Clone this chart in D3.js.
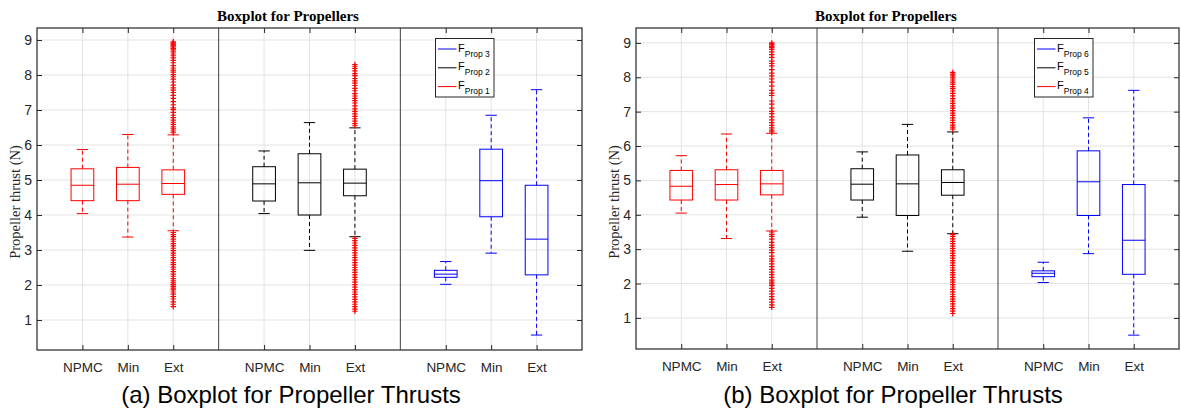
<!DOCTYPE html>
<html>
<head>
<meta charset="utf-8">
<script src="https://cdn.jsdelivr.net/npm/d3@7"></script>
<style>
  body { margin: 0; background: #fff; }
  svg { display: block; }
</style>
</head>
<body>
<svg id="chart" width="1181" height="410"></svg>
<script>
// categories and ticks
var categories = ["NPMC", "Min", "Ext"];
var yTicks = [1, 2, 3, 4, 5, 6, 7, 8, 9];

// five-number summaries per category: [lower whisker, q1, median, q3, upper whisker]
var prop1 = [[4.04, 4.41, 4.85, 5.32, 5.87], [3.37, 4.41, 4.88, 5.36, 6.30], [3.55, 4.59, 4.90, 5.29, 6.29]];
var prop2 = [[4.04, 4.40, 4.89, 5.38, 5.83], [2.99, 4.00, 4.92, 5.75, 6.64], [3.38, 4.55, 4.91, 5.31, 6.49]];
var prop3 = [[2.02, 2.22, 2.31, 2.42, 2.67], [2.91, 3.95, 4.98, 5.88, 6.85], [0.57, 2.29, 3.31, 4.85, 7.58]];

var prop4 = [[4.05, 4.43, 4.83, 5.29, 5.72], [3.31, 4.43, 4.88, 5.31, 6.35], [3.53, 4.58, 4.90, 5.29, 6.37]];
var prop5 = [[3.93, 4.43, 4.89, 5.34, 5.83], [2.94, 3.98, 4.90, 5.74, 6.63], [3.45, 4.57, 4.94, 5.31, 6.41]];
var prop6 = [[2.03, 2.20, 2.30, 2.37, 2.62], [2.87, 3.98, 4.96, 5.86, 6.82], [0.50, 2.27, 3.26, 4.88, 7.62]];

// outliers ("Ext" only)
var prop1ExtOut = [8.95, 8.92, 8.89, 8.86, 8.83, 8.80, 8.76, 8.72, 8.66, 8.60, 8.55, 8.49, 8.42, 8.35, 8.27, 8.20,
  8.14, 8.08, 8.01, 7.95, 7.88, 7.80, 7.71, 7.63, 7.57, 7.50, 7.42, 7.33, 7.24, 7.15, 7.06, 7.01, 6.93,
  6.85, 6.78, 6.71, 6.65, 6.59, 6.52, 6.46, 6.40, 6.35,
  3.50, 3.44, 3.38, 3.31, 3.25, 3.18, 3.12, 3.05, 2.98, 2.91, 2.85, 2.78, 2.71, 2.64, 2.58, 2.51, 2.45,
  2.38, 2.31, 2.25, 2.18, 2.12, 2.06, 2.01, 1.96, 1.91, 1.86, 1.80, 1.74, 1.67, 1.60, 1.52, 1.45, 1.38];
var prop2ExtOut = [8.30, 8.25, 8.19, 8.12, 8.04, 7.98, 7.90, 7.83, 7.77, 7.70, 7.62, 7.55, 7.47, 7.40, 7.33,
  7.27, 7.20, 7.12, 7.03, 6.96, 6.89, 6.82, 6.75, 6.68, 6.61, 6.55,
  3.33, 3.27, 3.20, 3.13, 3.06, 2.99, 2.92, 2.85, 2.78, 2.71, 2.64, 2.57, 2.50, 2.43, 2.36, 2.29, 2.22,
  2.15, 2.08, 2.01, 1.94, 1.87, 1.80, 1.73, 1.66, 1.59, 1.52, 1.45, 1.38, 1.31, 1.25];
var prop4ExtOut = [9.00, 8.97, 8.94, 8.90, 8.86, 8.81, 8.74, 8.66, 8.58, 8.47, 8.40, 8.33, 8.22, 8.12, 8.04,
  7.95, 7.86, 7.74, 7.62, 7.54, 7.47, 7.31, 7.22, 7.10, 7.01, 6.94, 6.85, 6.76, 6.68, 6.60, 6.53, 6.46, 6.41,
  3.50, 3.43, 3.37, 3.29, 3.20, 3.12, 3.05, 2.97, 2.90, 2.80, 2.72, 2.65, 2.57, 2.49, 2.41, 2.33, 2.26,
  2.18, 2.10, 2.04, 1.99, 1.94, 1.86, 1.78, 1.70, 1.62, 1.54, 1.46, 1.38, 1.31];
var prop5ExtOut = [8.14, 8.09, 8.04, 7.98, 7.92, 7.86, 7.80, 7.73, 7.67, 7.60, 7.53, 7.46, 7.38, 7.31, 7.24,
  7.17, 7.10, 7.03, 6.96, 6.89, 6.82, 6.75, 6.68, 6.61, 6.55, 6.49,
  3.43, 3.37, 3.30, 3.23, 3.16, 3.09, 3.02, 2.95, 2.88, 2.81, 2.74, 2.67, 2.60, 2.53, 2.46, 2.39, 2.32,
  2.25, 2.18, 2.11, 2.04, 1.97, 1.90, 1.83, 1.76, 1.69, 1.62, 1.55, 1.48, 1.41, 1.34, 1.27, 1.20, 1.13];

var groupColors = ["#ff0000", "#000000", "#0000ff"];
var axisColor = "#262626";
var svg = d3.select("#chart");

function drawPanel(p) {
  var x = d3.scaleLinear().domain([0, 12]).range([p.left, p.right]);
  var y = d3.scaleLinear().domain(p.yDomain).range([p.bottom, p.top]);
  var g = svg.append("g");

  var positions = [];
  for (var gi = 0; gi < 3; gi++) for (var c = 0; c < 3; c++) positions.push(1 + gi * 4 + c);
  var labels = positions.map(function(d, i) { return categories[i % 3]; });

  // grid
  g.append("g").selectAll("line").data(yTicks).enter().append("line")
    .attr("x1", p.left).attr("x2", p.right)
    .attr("y1", function(d) { return y(d); }).attr("y2", function(d) { return y(d); })
    .attr("stroke", "#e3e3e3").attr("stroke-width", 1);
  g.append("g").selectAll("line").data(positions).enter().append("line")
    .attr("y1", p.top).attr("y2", p.bottom)
    .attr("x1", function(d) { return x(d); }).attr("x2", function(d) { return x(d); })
    .attr("stroke", "#e3e3e3").attr("stroke-width", 1);

  // separators between groups
  g.append("g").selectAll("line").data([4, 8]).enter().append("line")
    .attr("y1", p.top).attr("y2", p.bottom)
    .attr("x1", function(d) { return x(d); }).attr("x2", function(d) { return x(d); })
    .attr("stroke", "#404040").attr("stroke-width", 1);

  // axes
  var left = g.append("g").attr("transform", "translate(" + p.left + ",0)")
    .call(d3.axisLeft(y).tickValues(yTicks).tickSizeInner(-5).tickSizeOuter(0).tickPadding(5));
  var right = g.append("g").attr("transform", "translate(" + p.right + ",0)")
    .call(d3.axisRight(y).tickValues(yTicks).tickSizeInner(-5).tickSizeOuter(0).tickFormat(""));
  var bottom = g.append("g").attr("transform", "translate(0," + p.bottom + ")")
    .call(d3.axisBottom(x).tickValues(positions).tickSizeInner(-5).tickSizeOuter(0).tickPadding(12)
      .tickFormat(function(d, i) { return labels[i]; }));
  var top = g.append("g").attr("transform", "translate(0," + p.top + ")")
    .call(d3.axisTop(x).tickValues(positions).tickSizeInner(-5).tickSizeOuter(0).tickFormat(""));
  [left, right, bottom, top].forEach(function(a) {
    a.select(".domain").remove();
    a.selectAll("line").attr("stroke", axisColor);
    a.selectAll("text").attr("fill", axisColor).attr("font-family", "Liberation Sans, Arial, sans-serif");
  });
  left.selectAll("text").attr("font-size", 14);
  bottom.selectAll("text").attr("font-size", 13.5);

  // boxes
  p.series.forEach(function(series, gi) {
    var color = groupColors[gi];
    series.forEach(function(s, c) {
      var pos = 1 + gi * 4 + c;
      var bg = g.append("g").attr("stroke", color).attr("fill", "none").attr("stroke-width", 1);
      bg.append("line").attr("x1", x(pos)).attr("x2", x(pos)).attr("y1", y(s[3])).attr("y2", y(s[4]))
        .attr("stroke-dasharray", "4,3");
      bg.append("line").attr("x1", x(pos)).attr("x2", x(pos)).attr("y1", y(s[1])).attr("y2", y(s[0]))
        .attr("stroke-dasharray", "4,3");
      [s[0], s[4]].forEach(function(v) {
        bg.append("line").attr("x1", x(pos - 0.125)).attr("x2", x(pos + 0.125))
          .attr("y1", y(v)).attr("y2", y(v));
      });
      bg.append("rect").attr("x", x(pos - 0.25)).attr("width", x(pos + 0.25) - x(pos - 0.25))
        .attr("y", y(s[3])).attr("height", y(s[1]) - y(s[3]));
      bg.append("line").attr("x1", x(pos - 0.25)).attr("x2", x(pos + 0.25))
        .attr("y1", y(s[2])).attr("y2", y(s[2]));
    });
  });

  // outliers
  p.outliers.forEach(function(out, gi) {
    var pos = 1 + gi * 4 + 2;
    g.append("g").selectAll("path").data(out).enter().append("path")
      .attr("d", function(d) {
        var cx = x(pos), cy = y(d), r = 2.7;
        return "M" + (cx - r) + "," + cy + "H" + (cx + r) + "M" + cx + "," + (cy - r) + "V" + (cy + r);
      })
      .attr("stroke", "#ff0000").attr("stroke-width", 1.2);
  });

  // frame
  g.append("rect").attr("x", p.left).attr("y", p.top)
    .attr("width", p.right - p.left).attr("height", p.bottom - p.top)
    .attr("fill", "none").attr("stroke", axisColor).attr("stroke-width", 1.2);

  // legend
  var lx = p.left + 398.5, ly = 38.5;
  var lg = g.append("g");
  lg.append("rect").attr("x", lx).attr("y", ly).attr("width", 58.5).attr("height", 58.5)
    .attr("fill", "#fff").attr("stroke", axisColor).attr("stroke-width", 1);
  p.legend.forEach(function(item, i) {
    var yy = ly + 10.5 + i * 18.8;
    lg.append("line").attr("x1", lx + 2.5).attr("x2", lx + 21).attr("y1", yy).attr("y2", yy)
      .attr("stroke", item.color).attr("stroke-width", 1);
    var t = lg.append("text").attr("x", lx + 22.5).attr("y", yy + 2.5)
      .attr("font-family", "Liberation Sans, Arial, sans-serif").attr("fill", "#000");
    t.append("tspan").attr("font-size", 11).text("F");
    t.append("tspan").attr("font-size", 8.5).attr("dy", 5).text(item.sub);
  });

  // title, ylabel, caption
  g.append("text").attr("x", p.titleX).attr("y", 20.5).attr("text-anchor", "middle")
    .attr("font-family", "Liberation Serif, Times New Roman, serif").attr("font-weight", "bold")
    .attr("font-size", 15).text("Boxplot for Propellers");
  g.append("text").attr("transform", "translate(" + (p.left - 17.5) + ",202) rotate(-90)")
    .attr("text-anchor", "middle").attr("font-family", "Liberation Serif, Times New Roman, serif")
    .attr("font-size", 14.5).attr("fill", axisColor).text("Propeller thrust (N)");
  g.append("text").attr("x", p.captionX).attr("y", 403).attr("text-anchor", "middle")
    .attr("font-family", "Liberation Sans, Arial, sans-serif").attr("font-size", 24)
    .attr("fill", "#000").text(p.caption);
}

drawPanel({
  left: 37, right: 582, top: 28, bottom: 350, yDomain: [0.143, 9.343],
  series: [prop1, prop2, prop3], outliers: [prop1ExtOut, prop2ExtOut],
  legend: [{color: "#0000ff", sub: "Prop 3"}, {color: "#000000", sub: "Prop 2"}, {color: "#ff0000", sub: "Prop 1"}],
  caption: "(a) Boxplot for Propeller Thrusts", captionX: 291, titleX: 288
});
drawPanel({
  left: 636, right: 1179, top: 28, bottom: 349, yDomain: [0.097, 9.433],
  series: [prop4, prop5, prop6], outliers: [prop4ExtOut, prop5ExtOut],
  legend: [{color: "#0000ff", sub: "Prop 6"}, {color: "#000000", sub: "Prop 5"}, {color: "#ff0000", sub: "Prop 4"}],
  caption: "(b) Boxplot for Propeller Thrusts", captionX: 893, titleX: 886
});
</script>
</body>
</html>
